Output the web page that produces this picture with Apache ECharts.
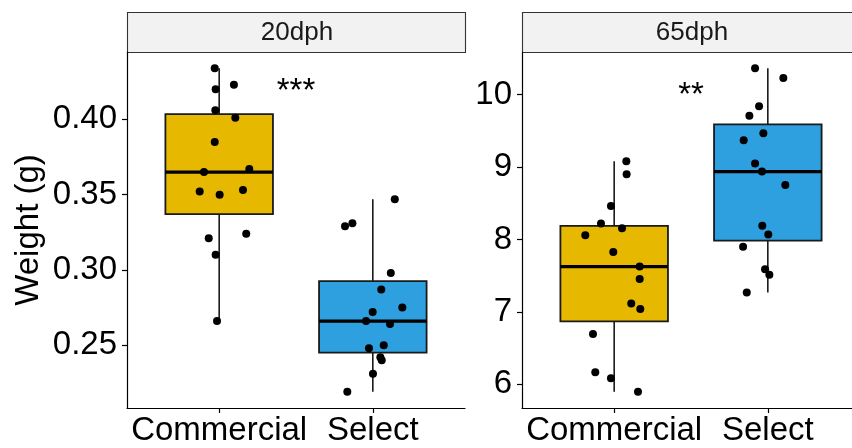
<!DOCTYPE html>
<html>
<head>
<meta charset="utf-8">
<title>Weight by line and age</title>
<script src="https://cdn.jsdelivr.net/npm/echarts@6/dist/echarts.min.js"></script>
<style>
  html, body { margin: 0; padding: 0; background: #ffffff; }
  #chart { width: 852px; height: 448px; }
</style>
</head>
<body>
<div id="chart"></div>
<script>
// Groups on the x axis
const categories = ['Commercial', 'Select'];
// Facet titles
const panels = ['20dph', '65dph'];

// Individual weights (g), 20 days post hatch
const w20Commercial = [0.434, 0.423, 0.420, 0.406, 0.401, 0.385, 0.365, 0.367, 0.352, 0.350, 0.353, 0.321, 0.324, 0.310, 0.266];
const w20Select     = [0.347, 0.329, 0.331, 0.298, 0.287, 0.275, 0.272, 0.266, 0.264, 0.248, 0.250, 0.242, 0.240, 0.231, 0.219];
// Individual weights (g), 65 days post hatch
const w65Commercial = [9.081, 8.901, 8.462, 8.222, 8.157, 8.060, 7.829, 7.626, 7.455, 7.117, 7.040, 6.697, 6.166, 6.083, 5.897];
const w65Select     = [10.366, 10.231, 9.839, 9.709, 9.469, 9.372, 9.049, 8.938, 8.753, 8.190, 8.069, 7.899, 7.588, 7.515, 7.270];

// Horizontal jitter of each point, in group units
const jit20Commercial = [-0.029, 0.096, -0.023, -0.025, 0.105, -0.029, -0.099, 0.196, -0.127, 0.003, 0.155, -0.068, 0.176, -0.023, -0.014];
const jit20Select     = [0.143, -0.181, -0.133, 0.117, 0.055, 0.192, -0.001, -0.044, 0.112, -0.025, 0.071, 0.049, 0.058, 0.001, -0.166];
const jit65Commercial = [0.079, 0.081, -0.021, -0.086, 0.051, -0.188, -0.006, 0.166, 0.166, 0.111, 0.170, -0.138, -0.123, -0.021, 0.155];
const jit65Select     = [-0.083, 0.101, -0.057, -0.120, -0.029, -0.157, -0.083, -0.038, 0.114, -0.036, 0.003, -0.161, -0.018, 0.010, -0.137];

// Y tick labels per facet
const ticks20 = [0.25, 0.30, 0.35, 0.40];
const ticks65 = [6, 7, 8, 9, 10];

// Significance of the Commercial vs Select comparison, and where it is written (data units)
const sigLabels = ['***', '**'];
const sigY = [0.418, 9.99];

const boxColors = ['#E7B800', '#2E9FDF'];
const FONT = "'Liberation Sans', Arial, sans-serif";

// R type-7 quantile
function quantile(sorted, p) {
  const h = (sorted.length - 1) * p;
  const lo = Math.floor(h);
  const hi = Math.min(lo + 1, sorted.length - 1);
  return sorted[lo] + (h - lo) * (sorted[hi] - sorted[lo]);
}
// Tukey box statistics: [x, lowerWhisker, q1, median, q3, upperWhisker, colourIndex]
function boxStats(values, x, ci) {
  const s = values.slice().sort((a, b) => a - b);
  const q1 = quantile(s, 0.25), med = quantile(s, 0.5), q3 = quantile(s, 0.75);
  const iqr = q3 - q1;
  const lo = s.find(v => v >= q1 - 1.5 * iqr);
  const hi = s.slice().reverse().find(v => v <= q3 + 1.5 * iqr);
  return [x, lo, q1, med, q3, hi, ci];
}
function points(values, jitter, x) {
  return values.map((v, i) => [x + jitter[i], v]);
}
// Continuous range padded by 5% on each side
function paddedRange(arrs) {
  const all = [].concat(...arrs);
  const mn = Math.min(...all), mx = Math.max(...all);
  const pad = (mx - mn) * 0.05;
  return [mn - pad, mx + pad];
}

const facets = [
  { commercial: w20Commercial, select: w20Select, jc: jit20Commercial, js: jit20Select, ticks: ticks20, fmt: v => v.toFixed(2) },
  { commercial: w65Commercial, select: w65Select, jc: jit65Commercial, js: jit65Select, ticks: ticks65, fmt: v => String(v) }
];

// Panel geometry: each panel spans 2.2 group units (0.4 .. 2.6);
// the second one runs off the right edge of the canvas.
const CANVAS_W = 852;
const gridLefts = [127, 522];
const fullWidth = 338;
const UNIT = fullWidth / 2.2;
const gridWidths = gridLefts.map(l => Math.min(fullWidth, CANVAS_W - l));
const gridTop = 52;
const gridBottom = 40;
const stripTop = 12;
const stripHeight = 40;

const BOX_HALF = 0.35;

function renderBox(params, api) {
  const x = api.value(0);
  const lo = api.value(1), q1 = api.value(2), med = api.value(3), q3 = api.value(4), hi = api.value(5);
  const ci = api.value(6);
  const pTop = api.coord([x - BOX_HALF, q3]);
  const pBot = api.coord([x + BOX_HALF, q1]);
  const pMedL = api.coord([x - BOX_HALF, med]);
  const pMedR = api.coord([x + BOX_HALF, med]);
  const pHi = api.coord([x, hi]);
  const pQ3 = api.coord([x, q3]);
  const pQ1 = api.coord([x, q1]);
  const pLo = api.coord([x, lo]);
  const dark = '#1a1a1a';
  return {
    type: 'group',
    children: [
      { type: 'line', shape: { x1: pHi[0], y1: pHi[1], x2: pQ3[0], y2: pQ3[1] }, style: { stroke: dark, lineWidth: 1.6 } },
      { type: 'line', shape: { x1: pQ1[0], y1: pQ1[1], x2: pLo[0], y2: pLo[1] }, style: { stroke: dark, lineWidth: 1.6 } },
      { type: 'rect', shape: { x: pTop[0], y: pTop[1], width: pBot[0] - pTop[0], height: pBot[1] - pTop[1] },
        style: { fill: boxColors[ci], stroke: dark, lineWidth: 1.8 } },
      { type: 'line', shape: { x1: pMedL[0], y1: pMedL[1], x2: pMedR[0], y2: pMedR[1] }, style: { stroke: '#000', lineWidth: 3.2 } }
    ]
  };
}

const grids = [], xAxes = [], yAxes = [], series = [], graphics = [];

facets.forEach((f, k) => {
  const range = paddedRange([f.commercial, f.select]);
  grids.push({ left: gridLefts[k], top: gridTop, width: gridWidths[k], bottom: gridBottom, containLabel: false });
  xAxes.push({
    type: 'value', gridIndex: k, min: 0.4, max: 0.4 + gridWidths[k] / UNIT,
    axisLine: { show: true, lineStyle: { color: '#000', width: 1.2 } },
    axisTick: { show: true, customValues: [1, 2], length: 5, lineStyle: { color: '#000', width: 1.2 } },
    axisLabel: { show: true, customValues: [1, 2], formatter: v => categories[Math.round(v) - 1],
      fontSize: 33, color: '#000', fontFamily: FONT, margin: 6 },
    splitLine: { show: false }
  });
  yAxes.push({
    type: 'value', gridIndex: k, min: range[0], max: range[1],
    name: k === 0 ? 'Weight (g)' : '', nameLocation: 'middle', nameGap: 82,
    nameTextStyle: { fontSize: 33, color: '#000', fontFamily: FONT },
    axisLine: { show: true, lineStyle: { color: '#000', width: 1.2 } },
    axisTick: { show: true, customValues: f.ticks, length: 5, lineStyle: { color: '#000', width: 1.2 } },
    axisLabel: { show: true, customValues: f.ticks, formatter: f.fmt,
      fontSize: 33, color: '#000', fontFamily: FONT, margin: 10 },
    splitLine: { show: false }
  });

  series.push({
    type: 'custom', xAxisIndex: k, yAxisIndex: k, renderItem: renderBox, silent: true,
    data: [boxStats(f.commercial, 1, 0), boxStats(f.select, 2, 1)],
    encode: { x: 0, y: [1, 5] }, z: 2
  });
  series.push({
    type: 'scatter', xAxisIndex: k, yAxisIndex: k, silent: true,
    symbol: 'circle', symbolSize: 8, itemStyle: { color: '#000', opacity: 1 },
    data: points(f.commercial, f.jc, 1).concat(points(f.select, f.js, 2)), z: 3
  });
  series.push({
    type: 'scatter', xAxisIndex: k, yAxisIndex: k, silent: true,
    symbol: 'circle', symbolSize: 0, itemStyle: { color: '#000', opacity: 1 },
    label: { show: true, position: 'inside', formatter: sigLabels[k], fontSize: 33,
      color: '#000', textBorderWidth: 0, fontFamily: FONT },
    data: [[1.5, sigY[k]]], z: 4
  });

  // Facet strip (full panel width, clipped by the canvas edge)
  graphics.push({
    type: 'rect', silent: true,
    shape: { x: gridLefts[k] + 0.5, y: stripTop + 0.5, width: fullWidth, height: stripHeight },
    style: { fill: '#F2F2F2', stroke: '#333333', lineWidth: 1.1 }
  });
  graphics.push({
    type: 'text', silent: true,
    style: { text: panels[k], x: gridLefts[k] + fullWidth / 2 + 1, y: stripTop + stripHeight / 2 + 1,
      align: 'center', verticalAlign: 'middle', fontSize: 26, fontFamily: FONT, fill: '#1a1a1a' }
  });
});

const chart = echarts.init(document.getElementById('chart'), null, { renderer: 'canvas' });
chart.setOption({
  animation: false,
  backgroundColor: '#ffffff',
  grid: grids,
  xAxis: xAxes,
  yAxis: yAxes,
  series: series,
  graphic: graphics
});
</script>
</body>
</html>
